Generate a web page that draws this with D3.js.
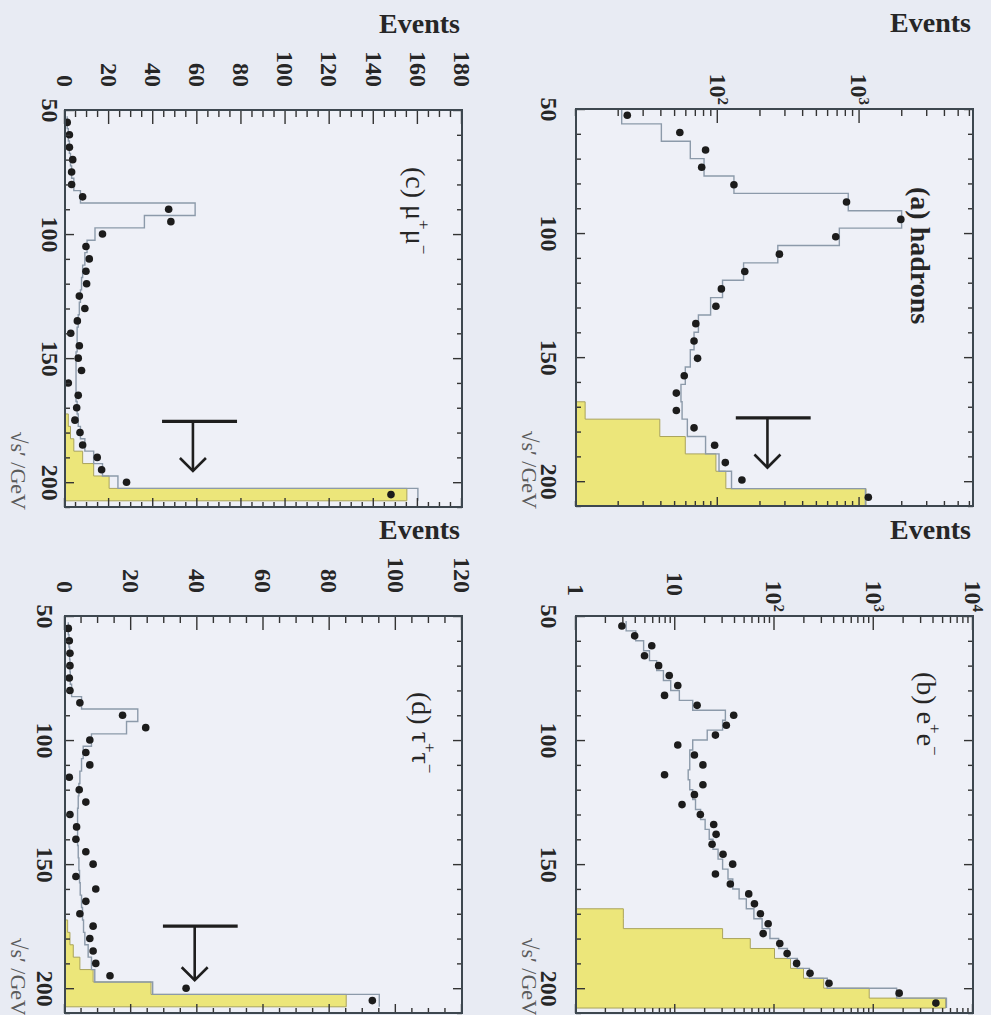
<!DOCTYPE html>
<html>
<head>
<meta charset="utf-8">
<script src="https://cdn.jsdelivr.net/npm/d3@7"></script>
<style>
  body { margin: 0; background: #e8ebf3; }
  svg { display: block; }
  .panel text { font-family: "Liberation Serif", "DejaVu Serif", serif; fill: #262626; }
</style>
</head>
<body>
<div id="chart-area"></div>
<script>

/********************************************/
// Data _____________________________________/
/********************************************/

// sqrt(s') axis ticks, GeV
var sqrtsTicks = [50, 100, 150, 200];
var sqrtsMinor = [60, 70, 80, 90, 110, 120, 130, 140, 160, 170, 180, 190, 210];

// (a) hadrons, 7 GeV bins
var hadX = [52.5, 59.5, 66.5, 73.5, 80.5, 87.5, 94.5, 101.5, 108.5, 115.5, 122.5, 129.5,
    136.5, 143.5, 150.5, 157.5, 164.5, 171.5, 178.5, 185.5, 192.5, 199.5, 206.5];
var hadData = [23, 54, 82, 77, 130, 809, 1954, 679, 272, 155, 106, 97,
    70, 68, 72, 58, 51, 51, 68, 95, 113, 148, 1153];
var hadMC = [21, 40, 64, 80, 130, 832, 1980, 720, 265, 152, 108, 89,
    73, 68, 64, 59, 55, 56, 61, 82, 102, 125, 1100];
var hadHigh = [0, 0, 0, 0, 0, 0, 0, 0, 0, 0, 0, 0,
    0, 0, 0, 0, 0, 11.6, 39, 59, 97, 114, 1110];
var hadTicks = [100, 1000];
// cut marker: [sqrt(s'), bar from, bar to, arrow level, arrow tip]
var hadCut = [174.5, 134, 452, 224, 194.5];

// (b) e+e-, 4 GeV bins
var eeX = [54, 58, 62, 66, 70, 74, 78, 82, 86, 90, 94, 98, 102, 106, 110, 114, 118, 122, 126, 130,
    134, 138, 142, 146, 150, 154, 158, 162, 166, 170, 174, 178, 182, 186, 190, 194, 198, 202, 206];
var eeData = [2.9, 3.9, 5.8, 4.9, 6.8, 8.7, 10.6, 7.8, 16.6, 38.8, 32.7, 25.4, 10.6, 15.6, 19.0, 7.8,
    19.0, 15.6, 11.7, 17.9, 24.4, 25.8, 23.5, 30.3, 37.9, 25.4, 35.9, 55, 62.8, 72.2, 86.3, 76.9,
    113, 134, 167, 228, 354, 1803, 4227];
var eeMC = [3.2, 4.0, 4.8, 5.5, 6.5, 7.6, 9.0, 11, 15, 32, 30, 21, 15, 14, 14, 13.5,
    14, 15, 16, 18, 20, 22, 24, 27, 30, 34, 38, 44, 52, 62, 75, 90,
    110, 135, 170, 225, 340, 1700, 5400];
var eeHigh = [0, 0, 0, 0, 0, 0, 0, 0, 0, 0, 0, 0, 0, 0, 0, 0,
    0, 0, 0, 0, 0, 0, 0, 0, 0, 0, 0, 0, 0, 3.0, 3.0, 30,
    57, 100, 145, 196, 313, 900, 5300];
var eeTicks = [1, 10, 100, 1000, 10000];

// (c) mu+mu- and (d) tau+tau-, 5 GeV bins
var lepX = [55, 60, 65, 70, 75, 80, 85, 90, 95, 100, 105, 110, 115, 120, 125, 130,
    135, 140, 145, 150, 155, 160, 165, 170, 175, 180, 185, 190, 195, 200, 205];
var mmData = [1, 2, 2, 3.5, 3, 3, 8, 47, 48, 17, 9.5, 11, 9.5, 9.8, 6.5, 9,
    5.6, 2.6, 6.5, 6, 7.5, 1.5, 6, 5.3, 4.5, 6.8, 8, 14.6, 16.6, 27.9, 147.8];
var mmMC = [1, 1.5, 2, 2.5, 3, 4, 7, 59, 36, 13.6, 10, 9, 8, 7.5, 7, 6.5,
    6, 5.5, 5.5, 5, 5, 5, 5, 5.5, 6, 7, 9, 13, 17, 24, 160];
var mmHigh = [0, 0, 0, 0, 0, 0, 0, 0, 0, 0, 0, 0, 0, 0, 0, 0,
    0, 0, 0, 0, 0, 0, 0, 0, 1.5, 2.5, 4, 8, 13, 20, 155];
var mmTicks = [0, 20, 40, 60, 80, 100, 120, 140, 160, 180];
var mmCut = [175.5, 44, 78, 58, 195.5];

var ttData = [1.0, 1.3, 1.5, 1.5, 1.3, 1.5, 4.5, 17.4, 24.4, 7.5, 6.3, 7.5, 1.3, 4.3, 6.3, 1.5,
    3.5, 3.3, 6.3, 8.5, 3.3, 9.3, 6.3, 4.5, 8.5, 7.5, 8.5, 9.3, 13.6, 36.6, 92.9];
var ttMC = [1, 1.2, 1.4, 1.5, 1.6, 2, 5, 22, 18.6, 8, 5.5, 5, 4.5, 4.2, 4, 3.8,
    3.8, 3.8, 4, 4.2, 4.4, 4.6, 5, 5.3, 5.6, 6, 7, 8, 9, 26.5, 95];
var ttHigh = [0, 0, 0, 0, 0, 0, 0, 0, 0, 0, 0, 0, 0, 0, 0, 0,
    0, 0, 0, 0, 0, 0, 0, 0, 0.8, 1.5, 2.5, 4.5, 8.5, 26, 85];
var ttTicks = [0, 20, 40, 60, 80, 100, 120];
var ttCut = [175, 29.6, 52.2, 39.2, 196.8];

/********************************************/
// Layout ___________________________________/
/********************************************/

var width = 991, height = 1015;
var side = 397;          // frame is square, drawn unrotated then turned 90deg

var svg = d3.select("#chart-area").append("svg")
    .attr("width", width)
    .attr("height", height);

svg.append("rect")
    .attr("width", width)
    .attr("height", height)
    .attr("fill", "#e8ebf3");

var panels = [
    { key: "a", left: 576, top: 109, xs: hadX, w: 7, data: hadData, mc: hadMC, high: hadHigh,
      y: d3.scaleLog().domain([10, 6310]), log: true, ticks: hadTicks, cut: hadCut,
      label: [["(a) hadrons", false]], labBold: true, labX: 78, labY: 62, xGap: 18 },
    { key: "b", left: 576, top: 616, xs: eeX, w: 4, data: eeData, mc: eeMC, high: eeHigh,
      y: d3.scaleLog().domain([1, 10000]), log: true, ticks: eeTicks, cut: null,
      label: [["(b) e", false], ["+", true], ["e", false], ["\u2212", true]],
      labBold: false, labX: 56, labY: 56, xGap: 18 },
    { key: "c", left: 65, top: 110, xs: lepX, w: 5, data: mmData, mc: mmMC, high: mmHigh,
      y: d3.scaleLinear().domain([0, 180]), log: false, ticks: mmTicks, cut: mmCut,
      label: [["(c) \u03bc", false], ["+", true], ["\u03bc", false], ["\u2212", true]],
      labBold: false, labX: 57, labY: 56, xGap: 6 },
    { key: "d", left: 65, top: 616, xs: lepX, w: 5, data: ttData, mc: ttMC, high: ttHigh,
      y: d3.scaleLinear().domain([0, 120]), log: false, ticks: ttTicks, cut: ttCut,
      label: [["(d) \u03c4", false], ["+", true], ["\u03c4", false], ["\u2212", true]],
      labBold: false, labX: 76, labY: 50, xGap: 11 }
];

panels.forEach(drawPanel);

function drawPanel(p) {
    var W = side, H = side;

    // original orientation: x = sqrt(s'), y = events; rotate clockwise onto the page
    var g = svg.append("g")
        .attr("class", "panel")
        .attr("transform", "translate(" + (p.left + side) + "," + p.top + ") rotate(90)");

    var x = d3.scaleLinear().domain([50, 210]).range([0, W]);
    var y = p.y.range([H, 0]).clamp(true);

    g.append("clipPath").attr("id", "clip-" + p.key)
        .append("rect").attr("width", W).attr("height", H);

    g.append("rect")
        .attr("width", W)
        .attr("height", H)
        .attr("fill", "#eef0f7");

    var plot = g.append("g").attr("clip-path", "url(#clip-" + p.key + ")");

    // histogram step points
    function steps(vals) {
        var pts = [];
        p.xs.forEach(function (c, i) {
            pts.push({ x: c - p.w / 2, v: vals[i] });
            pts.push({ x: c + p.w / 2, v: vals[i] });
        });
        return pts;
    }

    // yellow: high energy sample
    var area = d3.area()
        .defined(function (d) { return d.v > 0; })
        .x(function (d) { return x(d.x); })
        .y0(H)
        .y1(function (d) { return y(d.v); });

    plot.append("path")
        .attr("d", area(steps(p.high)))
        .attr("fill", "#ece67a")
        .attr("stroke", "#aaa45c")
        .attr("stroke-width", 1);

    // Monte Carlo histogram
    var line = d3.line()
        .defined(function (d) { return d.v > 0; })
        .x(function (d) { return x(d.x); })
        .y(function (d) { return y(d.v); });

    plot.append("path")
        .attr("d", line(steps(p.mc)))
        .attr("fill", "none")
        .attr("stroke", "#8c9aaa")
        .attr("stroke-width", 1.4);

    // data points
    plot.selectAll("circle.pt")
        .data(p.data)
        .enter().append("circle")
        .attr("class", "pt")
        .attr("cx", function (d, i) { return x(p.xs[i]); })
        .attr("cy", function (d) { return y(d); })
        .attr("r", 3.8)
        .attr("fill", "#1c1c1c");

    // cut marker
    if (p.cut) {
        var c = p.cut;
        var mk = g.append("g")
            .attr("stroke", "#1e1e1e")
            .attr("fill", "none");
        mk.append("line")
            .attr("x1", x(c[0])).attr("x2", x(c[0]))
            .attr("y1", y(c[1])).attr("y2", y(c[2]))
            .attr("stroke-width", 3.2);
        mk.append("line")
            .attr("x1", x(c[0])).attr("x2", x(c[4]))
            .attr("y1", y(c[3])).attr("y2", y(c[3]))
            .attr("stroke-width", 2.6);
        mk.append("path")
            .attr("d", "M" + (x(c[4]) - 13) + "," + (y(c[3]) - 13) +
                "L" + x(c[4]) + "," + y(c[3]) +
                "L" + (x(c[4]) - 13) + "," + (y(c[3]) + 13))
            .attr("stroke-width", 2.6);
    }

    // minor tick positions
    var yMinor;
    if (p.log) {
        yMinor = y.ticks().filter(function (v) { return p.ticks.indexOf(v) < 0; });
    } else {
        var top = p.y.domain()[1];
        yMinor = d3.range(0, top + 0.1, 5).filter(function (v) { return v % 20 !== 0; });
    }

    function styleAxis(sel) {
        sel.select(".domain").remove();
        sel.attr("color", "#333")
            .attr("font-family", "Liberation Serif, DejaVu Serif, serif")
            .attr("font-size", 24)
            .attr("font-weight", "bold");
        sel.selectAll(".tick line").attr("stroke-width", 1.4);
    }

    // events axis (left in original orientation)
    var yAxis = g.append("g")
        .call(d3.axisLeft(y).tickValues(p.ticks).tickSize(-14).tickPadding(23)
            .tickFormat(d3.format("d")))
        .call(styleAxis);
    g.append("g")
        .call(d3.axisLeft(y).tickValues(yMinor).tickSize(-7).tickFormat(""))
        .call(styleAxis);
    g.append("g")
        .attr("transform", "translate(" + W + ",0)")
        .call(d3.axisRight(y).tickValues(p.ticks).tickSize(-9).tickFormat(""))
        .call(styleAxis);
    g.append("g")
        .attr("transform", "translate(" + W + ",0)")
        .call(d3.axisRight(y).tickValues(yMinor).tickSize(-5).tickFormat(""))
        .call(styleAxis);

    if (p.log) {
        yAxis.selectAll(".tick text").each(function (d) {
            var e = Math.round(Math.log10(d));
            var t = d3.select(this).text(null);
            if (e < 2) {
                t.attr("x", -20).text(e === 0 ? "1" : "10");
            } else {
                t.attr("x", -4);
                t.append("tspan").text("10");
                t.append("tspan").attr("dy", -8).attr("font-size", 15).text(e);
            }
        });
    }

    // sqrt(s') axis (bottom in original orientation)
    g.append("g")
        .attr("transform", "translate(0," + H + ")")
        .call(d3.axisBottom(x).tickValues(sqrtsTicks).tickSize(-9).tickPadding(p.xGap))
        .call(styleAxis);
    g.append("g")
        .attr("transform", "translate(0," + H + ")")
        .call(d3.axisBottom(x).tickValues(sqrtsMinor).tickSize(-5).tickFormat(""))
        .call(styleAxis);
    g.append("g")
        .call(d3.axisTop(x).tickValues(sqrtsTicks).tickSize(-9).tickFormat(""))
        .call(styleAxis);
    g.append("g")
        .call(d3.axisTop(x).tickValues(sqrtsMinor).tickSize(-5).tickFormat(""))
        .call(styleAxis);

    // frame
    g.append("rect")
        .attr("width", W)
        .attr("height", H)
        .attr("fill", "none")
        .attr("stroke", "#3d474f")
        .attr("stroke-width", 2);

    // axis titles
    g.append("text")
        .attr("transform", "translate(-77,2) rotate(-90)")
        .attr("text-anchor", "end")
        .attr("font-size", 28)
        .attr("font-weight", "bold")
        .text("Events");

    g.append("text")
        .attr("x", W + 3)
        .attr("y", H + 54)
        .attr("text-anchor", "end")
        .attr("font-size", 22)
        .style("fill", "#5a5a5a")
        .text("\u221As\u2032 /GeV");

    // panel label
    var lab = g.append("text")
        .attr("x", p.labX)
        .attr("y", p.labY)
        .attr("font-size", 28)
        .attr("font-weight", p.labBold ? "bold" : "normal");
    var up = false;
    p.label.forEach(function (part) {
        var ts = lab.append("tspan").text(part[0]);
        if (part[1]) {
            ts.attr("font-size", 17).attr("dy", -12);
            up = true;
        } else if (up) {
            ts.attr("dy", 12);
            up = false;
        }
    });
}
</script>
</body>
</html>
